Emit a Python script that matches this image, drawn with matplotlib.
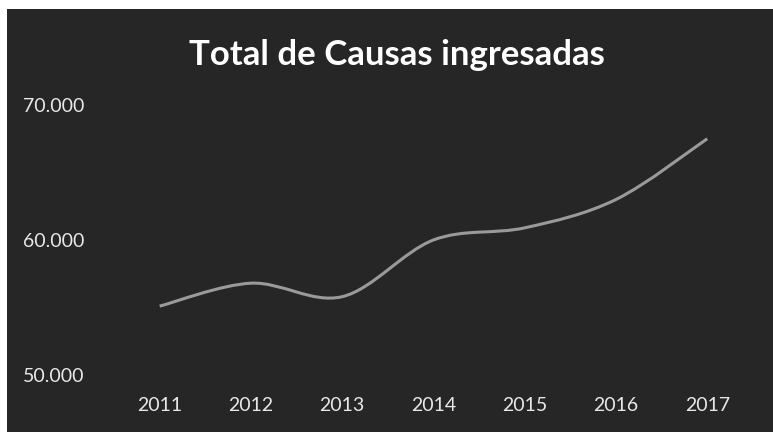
import numpy as np
import matplotlib
matplotlib.use("Agg")
from matplotlib import pyplot as plt
from matplotlib.path import Path
from matplotlib.patches import PathPatch, Rectangle

years = ["2011", "2012", "2013", "2014", "2015", "2016", "2017"]
causas = [55100, 56800, 55800, 60000, 60900, 63000, 67500]
y_ticks = [50000, 60000, 70000]
y_labels = ["50.000", "60.000", "70.000"]


def smooth_path(x, y):
    # Bezier pieces through the points, like Excel's smoothed line
    verts = [(x[0], y[0])]
    codes = [Path.MOVETO]
    n = len(x)
    for i in range(n - 1):
        p0 = (x[i - 1], y[i - 1]) if i > 0 else (x[i], y[i])
        p1 = (x[i], y[i])
        p2 = (x[i + 1], y[i + 1])
        p3 = (x[i + 2], y[i + 2]) if i + 2 < n else p2
        c1 = (p1[0] + (p2[0] - p0[0]) / 6, p1[1] + (p2[1] - p0[1]) / 6)
        c2 = (p2[0] - (p3[0] - p1[0]) / 6, p2[1] - (p3[1] - p1[1]) / 6)
        verts += [c1, c2, p2]
        codes += [Path.CURVE4] * 3
    return Path(verts, codes)


def main():
    plt.rcParams["font.family"] = ["Lato", "DejaVu Sans"]
    bg = "#262626"
    fig = plt.figure(figsize=(7.73, 4.32), dpi=100, facecolor="white")
    fig.patches.append(Rectangle((7 / 773, 0), 1, 1 - 9 / 432, transform=fig.transFigure,
                                 facecolor=bg, edgecolor="none", zorder=-1))

    ax = fig.add_axes([0.1475, 0.132, 0.8265, 0.625])
    ax.set_facecolor("none")
    x = np.arange(len(years))
    ax.add_patch(PathPatch(smooth_path(x, causas), facecolor="none",
                           edgecolor="#9a9a9a", lw=2.2))
    ax.set_xlim(-0.5, len(years) - 0.5)
    ax.set_ylim(50000, 70000)
    ax.set_xticks(x)
    ax.set_xticklabels(years)
    ax.set_yticks(y_ticks)
    ax.set_yticklabels(y_labels)
    ax.tick_params(axis="x", length=0, pad=16, labelsize=14, colors="#e8e8e8")
    ax.tick_params(axis="y", length=0, pad=21, labelsize=14, colors="#e8e8e8")
    for s in ax.spines.values():
        s.set_visible(False)

    fig.text(0.514, 0.872, "Total de Causas ingresadas", ha="center", va="center",
             fontsize=25, fontweight="bold", color="white")

    fig.savefig("out.png", dpi=100, facecolor=fig.get_facecolor())


if __name__ == "__main__":
    main()
